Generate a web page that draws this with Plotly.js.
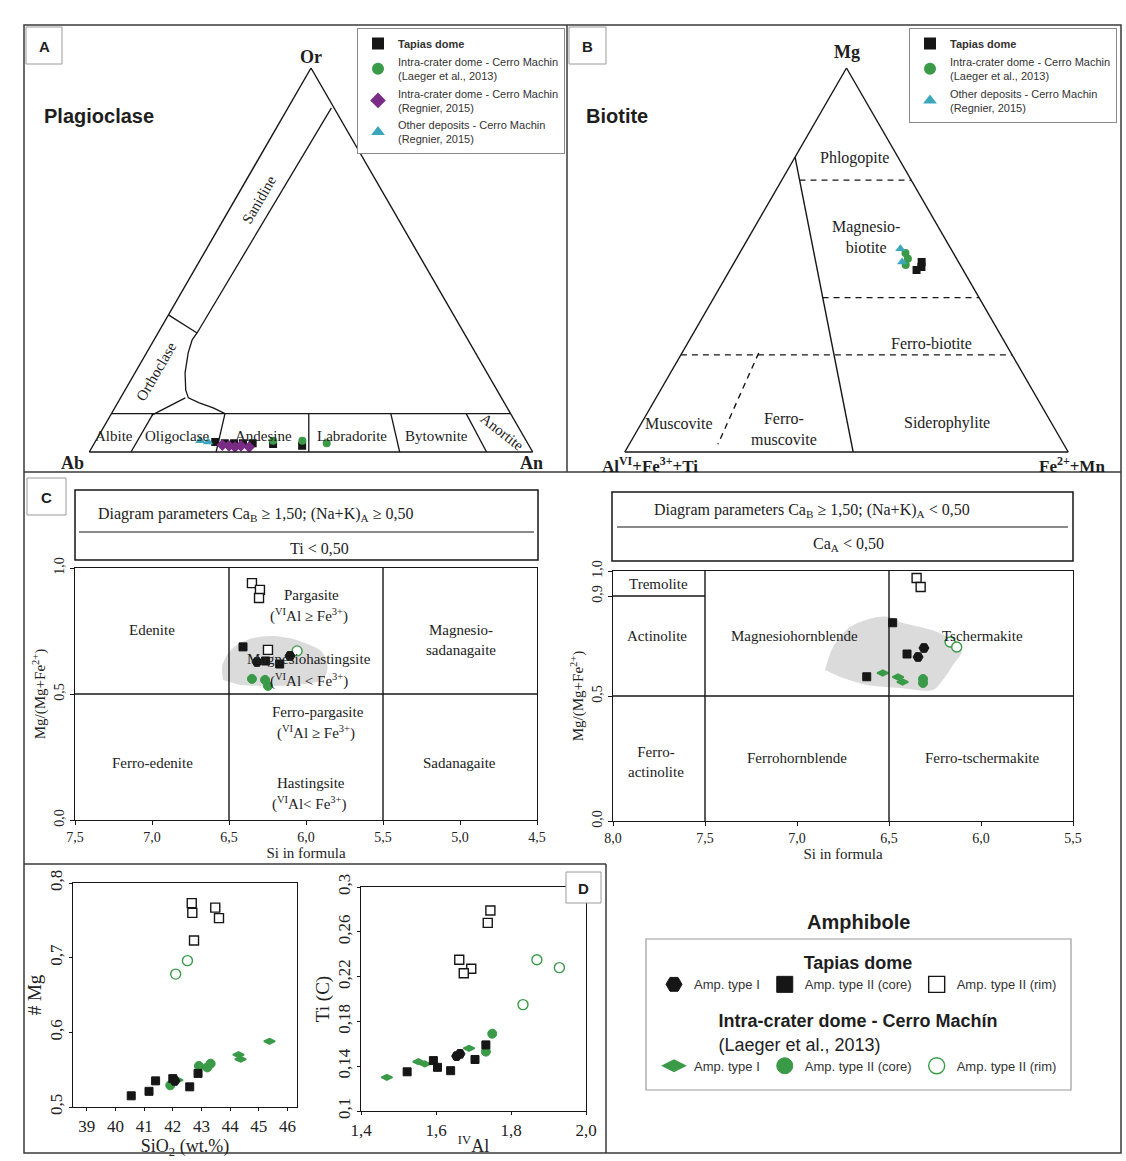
<!DOCTYPE html>
<html>
<head>
<meta charset="utf-8">
<script src="https://cdn.plot.ly/plotly-3.0.1.min.js"></script>
<style>
  html, body { margin: 0; padding: 0; background: #fff; }
  #chart { width: 1126px; height: 1161px; }
</style>
</head>
<body>
<div id="chart"></div>
<script>
// ---------- fonts & colours ----------
const SANS = '"Liberation Sans", Arial, sans-serif';
const SERIF = '"Liberation Serif", "Times New Roman", serif';
const INK = '#161616';
const GREEN = '#3a9a48';
const PURPLE = '#7a2b86';
const CYAN = '#3ba7bd';
const BLOB = 'rgba(175,175,175,0.45)';

// ---------- A: plagioclase compositions (Or, Ab, An fractions) ----------
const plagTapiasOr = [0.026, 0.023, 0.023, 0.023, 0.023, 0.021, 0.016];
const plagTapiasAb = [0.703, 0.683, 0.662, 0.642, 0.620, 0.575, 0.512];
const plagTapiasAn = [0.271, 0.294, 0.315, 0.335, 0.357, 0.404, 0.472];
const plagLaegerOr = [0.029, 0.029, 0.023];
const plagLaegerAb = [0.571, 0.505, 0.453];
const plagLaegerAn = [0.400, 0.466, 0.524];
const plagRegnierOr = [0.018, 0.016, 0.013, 0.016, 0.013];
const plagRegnierAb = [0.691, 0.677, 0.665, 0.650, 0.633];
const plagRegnierAn = [0.291, 0.307, 0.322, 0.334, 0.354];
const plagOtherOr = [0.029, 0.026];
const plagOtherAb = [0.735, 0.719];
const plagOtherAn = [0.236, 0.255];

// feldspar field boundaries, vertices as [Or, Ab, An]
const plagFieldLines = [
  [[0.10, 0.90, 0.00], [0.10, 0.00, 0.90]],
  [[0.00, 0.906, 0.094], [0.10, 0.806, 0.094]],
  [[0.00, 0.714, 0.286], [0.10, 0.644, 0.256]],
  [[0.00, 0.505, 0.495], [0.10, 0.455, 0.445]],
  [[0.00, 0.300, 0.700], [0.10, 0.270, 0.630]],
  [[0.00, 0.104, 0.896], [0.10, 0.100, 0.800]],
  [[0.896, 0.006, 0.098], [0.31, 0.602, 0.088]],
  [[0.357, 0.643, 0.000], [0.31, 0.602, 0.088]],
  [[0.31, 0.602, 0.088], [0.292, 0.622, 0.086], [0.258, 0.648, 0.094], [0.206, 0.681, 0.113],
   [0.161, 0.702, 0.137], [0.141, 0.706, 0.153], [0.128, 0.688, 0.184], [0.115, 0.663, 0.222],
   [0.10, 0.644, 0.256]],
  [[0.141, 0.713, 0.146], [0.096, 0.811, 0.093]]
];

// ---------- B: biotite compositions (Mg, AlVI+Fe3+ +Ti, Fe2+ +Mn) ----------
const bioTapiasMg = [0.495, 0.474, 0.482];
const bioTapiasAl = [0.083, 0.105, 0.090];
const bioTapiasFe = [0.422, 0.421, 0.428];
const bioLaegerMg = [0.518, 0.503, 0.487];
const bioLaegerAl = [0.108, 0.110, 0.123];
const bioLaegerFe = [0.374, 0.387, 0.390];
const bioOtherMg = [0.529, 0.495];
const bioOtherAl = [0.114, 0.127];
const bioOtherFe = [0.357, 0.378];

// biotite field boundaries, vertices as [Mg, Al, Fe]
const bioSolidLine = [[0.0, 0.485, 0.515], [0.768, 0.232, 0.0]];
const bioDashedLines = [
  [[0.708, 0.252, 0.040], [0.708, 0.0, 0.292]],
  [[0.402, 0.353, 0.245], [0.402, 0.0, 0.598]],
  [[0.253, 0.747, 0.0], [0.253, 0.0, 0.747]],
  [[0.258, 0.569, 0.173], [0.02, 0.78, 0.20]]
];

// ---------- C (left): CaB >= 1.50, (Na+K)A >= 0.50 — Si vs Mg/(Mg+Fe2+) ----------
const cLTapiasISi = [6.318, 6.104];
const cLTapiasIMg = [0.627, 0.651];
const cLTapiasCoreSi = [6.409, 6.262, 6.171];
const cLTapiasCoreMg = [0.687, 0.631, 0.619];
const cLTapiasRimSi = [6.351, 6.299, 6.305, 6.247];
const cLTapiasRimMg = [0.940, 0.913, 0.881, 0.675];
const cLLaegerCoreSi = [6.351, 6.266, 6.247];
const cLLaegerCoreMg = [0.560, 0.556, 0.532];
const cLLaegerRimSi = [6.058];
const cLLaegerRimMg = [0.671];
const cLFieldSi = [6.539, 6.545, 6.513, 6.448, 6.344, 6.214, 6.084, 5.974, 5.896, 5.864, 5.864, 5.896, 6.006, 6.234, 6.429];
const cLFieldMg = [0.556, 0.607, 0.655, 0.694, 0.722, 0.730, 0.718, 0.694, 0.667, 0.627, 0.587, 0.556, 0.540, 0.532, 0.536];

// ---------- C (right): CaB >= 1.50, (Na+K)A < 0.50 ----------
const cRTapiasISi = [6.310, 6.342];
const cRTapiasIMg = [0.692, 0.656];
const cRTapiasCoreSi = [6.480, 6.402, 6.621];
const cRTapiasCoreMg = [0.793, 0.668, 0.577];
const cRTapiasRimSi = [6.350, 6.328];
const cRTapiasRimMg = [0.972, 0.936];
const cRLaegerISi = [6.534, 6.451, 6.426];
const cRLaegerIMg = [0.592, 0.576, 0.556];
const cRLaegerCoreSi = [6.315, 6.315];
const cRLaegerCoreMg = [0.568, 0.552];
const cRLaegerRimSi = [6.168, 6.132];
const cRLaegerRimMg = [0.716, 0.696];
const cRFieldSi = [6.848, 6.804, 6.712, 6.565, 6.495, 6.440, 6.223, 6.103, 6.152, 6.207, 6.261, 6.440, 6.620, 6.766];
const cRFieldMg = [0.604, 0.696, 0.776, 0.816, 0.816, 0.796, 0.752, 0.684, 0.624, 0.564, 0.524, 0.532, 0.544, 0.576];

// ---------- D (left): SiO2 wt.% vs #Mg ----------
const dLTapiasISiO2 = [42.07];
const dLTapiasIMg = [0.535];
const dLTapiasCoreSiO2 = [40.55, 41.17, 41.40, 42.00, 42.59, 42.88];
const dLTapiasCoreMg = [0.515, 0.521, 0.535, 0.538, 0.527, 0.545];
const dLTapiasRimSiO2 = [42.66, 42.68, 42.74, 43.48, 43.61];
const dLTapiasRimMg = [0.773, 0.760, 0.723, 0.767, 0.753];
const dLLaegerISiO2 = [42.16, 44.29, 44.36, 45.37];
const dLLaegerIMg = [0.536, 0.570, 0.564, 0.588];
const dLLaegerCoreSiO2 = [41.91, 42.91, 43.20, 43.32];
const dLLaegerCoreMg = [0.529, 0.555, 0.553, 0.558];
const dLLaegerRimSiO2 = [42.10, 42.51];
const dLLaegerRimMg = [0.678, 0.696];

// ---------- D (right): IVAl vs Ti (C) ----------
const dRTapiasIAl = [1.655, 1.664];
const dRTapiasITi = [0.149, 0.151];
const dRTapiasCoreAl = [1.523, 1.593, 1.604, 1.639, 1.704, 1.733];
const dRTapiasCoreTi = [0.135, 0.145, 0.139, 0.136, 0.146, 0.159];
const dRTapiasRimAl = [1.745, 1.738, 1.662, 1.694, 1.674];
const dRTapiasRimTi = [0.279, 0.268, 0.235, 0.227, 0.223];
const dRLaegerIAl = [1.469, 1.553, 1.570, 1.688];
const dRLaegerITi = [0.130, 0.144, 0.142, 0.156];
const dRLaegerCoreAl = [1.750, 1.733];
const dRLaegerCoreTi = [0.169, 0.153];
const dRLaegerRimAl = [1.869, 1.929, 1.832];
const dRLaegerRimTi = [0.235, 0.228, 0.195];

// ---------- tick values / labels ----------
const cLeftSiTicks = [7.5, 7.0, 6.5, 6.0, 5.5, 5.0, 4.5];
const cLeftMgTicks = [0.0, 0.5, 1.0];
const cRightSiTicks = [8.0, 7.5, 7.0, 6.5, 6.0, 5.5];
const cRightMgTicks = [0.0, 0.5, 0.9, 1.0];
const dLeftSiO2Ticks = [39, 40, 41, 42, 43, 44, 45, 46];
const dLeftMgTicks = [0.5, 0.6, 0.7, 0.8];
const dRightAlTicks = [1.4, 1.6, 1.8, 2.0];
const dRightTiTicks = [0.1, 0.14, 0.18, 0.22, 0.26, 0.3];
const dRightTiLabels = ['0,1', '0,14', '0,18', '0,22', '0,26', '0,3'];

// ---------- page geometry helpers (pixel -> paper) ----------
const W = 1126, H = 1161;
const px = x => x / W;
const py = y => 1 - y / H;

// ---------- marker styles ----------
const ST = {
  tapiasI:   {symbol: 'hexagon2', size: 10, color: INK, line: {color: INK, width: 1}},
  tapiasCore:{symbol: 'square', size: 8, color: INK, line: {color: INK, width: 1}},
  tapiasRim: {symbol: 'square', size: 9, color: '#fff', line: {color: INK, width: 1.4}},
  laegerI:   {symbol: 'diamond-wide', size: 8, color: GREEN, line: {color: GREEN, width: 1.5}},
  laegerCore:{symbol: 'circle', size: 9, color: GREEN, line: {color: GREEN, width: 1}},
  laegerRim: {symbol: 'circle', size: 10, color: '#fff', line: {color: GREEN, width: 1.4}}
};

const traces = [];

// ---------- ternary field lines ----------
plagFieldLines.forEach(seg => traces.push({
  type: 'scatterternary', subplot: 'ternary', mode: 'lines',
  a: seg.map(p => p[0]), b: seg.map(p => p[1]), c: seg.map(p => p[2]),
  line: {color: INK, width: 1.3}, hoverinfo: 'skip', showlegend: false
}));
traces.push({
  type: 'scatterternary', subplot: 'ternary2', mode: 'lines',
  a: bioSolidLine.map(p => p[0]), b: bioSolidLine.map(p => p[1]), c: bioSolidLine.map(p => p[2]),
  line: {color: INK, width: 1.4}, hoverinfo: 'skip', showlegend: false
});
bioDashedLines.forEach(seg => traces.push({
  type: 'scatterternary', subplot: 'ternary2', mode: 'lines',
  a: seg.map(p => p[0]), b: seg.map(p => p[1]), c: seg.map(p => p[2]),
  line: {color: INK, width: 1.4, dash: '6px,5px'}, hoverinfo: 'skip', showlegend: false
}));

// ---------- plagioclase points ----------
function tern(sub, leg, name, a, b, c, marker) {
  traces.push({type: 'scatterternary', subplot: sub, mode: 'markers', name: name,
    a: a, b: b, c: c, marker: marker, legend: leg, showlegend: true});
}
tern('ternary', 'legend', '<b>Tapias dome</b>', plagTapiasOr, plagTapiasAb, plagTapiasAn,
  {symbol: 'square', size: 8, color: INK});
tern('ternary', 'legend', 'Intra-crater dome - Cerro Machin<br>(Laeger et al., 2013)',
  plagLaegerOr, plagLaegerAb, plagLaegerAn, {symbol: 'circle', size: 8, color: GREEN});
tern('ternary', 'legend', 'Intra-crater dome - Cerro Machin<br>(Regnier, 2015)',
  plagRegnierOr, plagRegnierAb, plagRegnierAn, {symbol: 'diamond', size: 9, color: PURPLE});
tern('ternary', 'legend', 'Other deposits - Cerro Machin<br>(Regnier, 2015)',
  plagOtherOr, plagOtherAb, plagOtherAn, {symbol: 'triangle-up', size: 9, color: CYAN});

// ---------- biotite points ----------
tern('ternary2', 'legend2', '<b>Tapias dome</b>', bioTapiasMg, bioTapiasAl, bioTapiasFe,
  {symbol: 'square', size: 8, color: INK});
tern('ternary2', 'legend2', 'Intra-crater dome - Cerro Machin<br>(Laeger et al., 2013)',
  bioLaegerMg, bioLaegerAl, bioLaegerFe, {symbol: 'circle', size: 8, color: GREEN});
tern('ternary2', 'legend2', 'Other deposits - Cerro Machin<br>(Regnier, 2015)',
  bioOtherMg, bioOtherAl, bioOtherFe, {symbol: 'triangle-up', size: 9, color: CYAN});

// ---------- amphibole panels ----------
function pts(xa, ya, x, y, style) {
  traces.push({type: 'scatter', mode: 'markers', xaxis: xa, yaxis: ya, x: x, y: y,
    marker: style, showlegend: false, cliponaxis: false});
}
function field(xa, ya, x, y) {
  traces.push({type: 'scatter', mode: 'lines', xaxis: xa, yaxis: ya, x: x, y: y,
    fill: 'toself', fillcolor: BLOB, line: {width: 0, color: BLOB, shape: 'spline', smoothing: 0.8},
    hoverinfo: 'skip', showlegend: false});
}

field('x', 'y', cLFieldSi, cLFieldMg);
pts('x', 'y', cLLaegerCoreSi, cLLaegerCoreMg, ST.laegerCore);
pts('x', 'y', cLLaegerRimSi, cLLaegerRimMg, ST.laegerRim);
pts('x', 'y', cLTapiasCoreSi, cLTapiasCoreMg, ST.tapiasCore);
pts('x', 'y', cLTapiasISi, cLTapiasIMg, ST.tapiasI);
pts('x', 'y', cLTapiasRimSi, cLTapiasRimMg, ST.tapiasRim);

field('x2', 'y2', cRFieldSi, cRFieldMg);
pts('x2', 'y2', cRLaegerISi, cRLaegerIMg, ST.laegerI);
pts('x2', 'y2', cRLaegerCoreSi, cRLaegerCoreMg, ST.laegerCore);
pts('x2', 'y2', cRLaegerRimSi, cRLaegerRimMg, ST.laegerRim);
pts('x2', 'y2', cRTapiasCoreSi, cRTapiasCoreMg, ST.tapiasCore);
pts('x2', 'y2', cRTapiasISi, cRTapiasIMg, ST.tapiasI);
pts('x2', 'y2', cRTapiasRimSi, cRTapiasRimMg, ST.tapiasRim);

pts('x3', 'y3', dLLaegerISiO2, dLLaegerIMg, ST.laegerI);
pts('x3', 'y3', dLLaegerCoreSiO2, dLLaegerCoreMg, ST.laegerCore);
pts('x3', 'y3', dLLaegerRimSiO2, dLLaegerRimMg, ST.laegerRim);
pts('x3', 'y3', dLTapiasCoreSiO2, dLTapiasCoreMg, ST.tapiasCore);
pts('x3', 'y3', dLTapiasISiO2, dLTapiasIMg, ST.tapiasI);
pts('x3', 'y3', dLTapiasRimSiO2, dLTapiasRimMg, ST.tapiasRim);

pts('x4', 'y4', dRLaegerIAl, dRLaegerITi, ST.laegerI);
pts('x4', 'y4', dRLaegerCoreAl, dRLaegerCoreTi, ST.laegerCore);
pts('x4', 'y4', dRLaegerRimAl, dRLaegerRimTi, ST.laegerRim);
pts('x4', 'y4', dRTapiasCoreAl, dRTapiasCoreTi, ST.tapiasCore);
pts('x4', 'y4', dRTapiasIAl, dRTapiasITi, ST.tapiasI);
pts('x4', 'y4', dRTapiasRimAl, dRTapiasRimTi, ST.tapiasRim);

// legend keys for the amphibole symbol set
function key(leg, name, style) {
  traces.push({type: 'scatter', mode: 'markers', xaxis: 'x4', yaxis: 'y4', x: [null], y: [null],
    name: name, legend: leg, showlegend: true, hoverinfo: 'skip',
    marker: Object.assign({}, style, {size: 16})});
}
key('legend3', 'Amp. type I', ST.tapiasI);
key('legend3', 'Amp. type II (core)', ST.tapiasCore);
key('legend3', 'Amp. type II (rim)', ST.tapiasRim);
key('legend4', 'Amp. type I', ST.laegerI);
key('legend4', 'Amp. type II (core)', ST.laegerCore);
key('legend4', 'Amp. type II (rim)', ST.laegerRim);

// ---------- shapes ----------
const shapes = [];
const FRAME = {color: '#3a3a3a', width: 1.5};
function rectPx(x0, y0, x1, y1, line, fill) {
  shapes.push({type: 'rect', xref: 'paper', yref: 'paper', x0: px(x0), x1: px(x1), y0: py(y0), y1: py(y1),
    line: line, fillcolor: fill || 'rgba(0,0,0,0)', layer: 'above'});
}
function linePx(x0, y0, x1, y1, line) {
  shapes.push({type: 'line', xref: 'paper', yref: 'paper', x0: px(x0), x1: px(x1), y0: py(y0), y1: py(y1),
    line: line, layer: 'above'});
}
function lineData(xr, yr, x0, y0, x1, y1) {
  shapes.push({type: 'line', xref: xr, yref: yr, x0: x0, x1: x1, y0: y0, y1: y1,
    line: {color: INK, width: 1.4}, layer: 'above'});
}

// panel frames
rectPx(24, 25, 1121, 1153, FRAME);
linePx(567, 25, 567, 472, FRAME);
linePx(24, 472, 1121, 472, FRAME);
linePx(24, 864, 606, 864, FRAME);
linePx(606, 864, 606, 1153, FRAME);

// panel letter boxes
const BOXLINE = {color: '#9a9a9a', width: 1};
rectPx(26, 27, 62, 64, BOXLINE, '#fff');
rectPx(569, 27, 606, 64, BOXLINE, '#fff');
rectPx(27, 478, 66, 515, BOXLINE, '#fff');
rectPx(566, 872, 601, 903, BOXLINE, '#fff');

// amphibole header boxes
rectPx(75, 490, 538, 560, {color: INK, width: 1.5});
linePx(79, 532, 534, 532, {color: INK, width: 1.2});
rectPx(612, 492, 1073, 561, {color: INK, width: 1.5});
linePx(617, 527, 1068, 527, {color: INK, width: 1.2});

// amphibole legend frame
rectPx(646, 939, 1071, 1090, {color: '#9a9a9a', width: 1.2});

// classification boundaries in data units
lineData('x', 'y', 6.5, 0, 6.5, 1);
lineData('x', 'y', 5.5, 0, 5.5, 1);
lineData('x', 'y', 7.5, 0.5, 4.5, 0.5);
lineData('x2', 'y2', 7.5, 0, 7.5, 1);
lineData('x2', 'y2', 6.5, 0, 6.5, 1);
lineData('x2', 'y2', 8.0, 0.5, 5.5, 0.5);
lineData('x2', 'y2', 8.0, 0.9, 7.5, 0.9);

// ---------- annotations ----------
const annotations = [];
function label(text, x, y, font, extra) {
  annotations.push(Object.assign({text: text, x: px(x), y: py(y), xref: 'paper', yref: 'paper',
    showarrow: false, xanchor: 'center', yanchor: 'middle',
    font: Object.assign({family: SERIF, size: 15, color: '#222'}, font || {})}, extra || {}));
}
const BOLDSANS = {family: SANS, size: 20, color: '#1e1e1e'};
const LETTER = {family: SANS, size: 15, color: '#1e1e1e'};
const VERTEX = {family: SERIF, size: 18, color: '#1e1e1e'};

label('<b>A</b>', 44, 46, LETTER);
label('<b>B</b>', 587, 46, LETTER);
label('<b>C</b>', 46, 497, LETTER);
label('<b>D</b>', 583, 888, LETTER);

// A
label('<b>Plagioclase</b>', 99, 116, BOLDSANS);
label('<b>Or</b>', 311, 57, VERTEX);
label('<b>Ab</b>', 72, 463, VERTEX);
label('<b>An</b>', 531, 463, VERTEX);
label('Sanidine', 259, 200, {size: 15}, {textangle: -60});
label('Orthoclase', 156, 372, {size: 15}, {textangle: -60});
label('Albite', 114, 436);
label('Oligoclase', 177, 436);
label('Andesine', 263, 436);
label('Labradorite', 352, 436);
label('Bytownite', 436, 436);
label('Anortite', 502, 432, {size: 15}, {textangle: 38});

// B
label('<b>Biotite</b>', 617, 116, BOLDSANS);
label('<b>Mg</b>', 847, 52, VERTEX);
label('<b>Al<sup>VI</sup>+Fe<sup>3+</sup>+Ti</b>', 650, 465, {family: SERIF, size: 17, color: '#1e1e1e'});
label('<b>Fe<sup>2+</sup>+Mn</b>', 1072, 465, {family: SERIF, size: 17, color: '#1e1e1e'});
label('Phlogopite', 854, 158, {size: 16});
label('Magnesio-<br>biotite', 866, 237, {size: 16});
label('Ferro-biotite', 931, 343, {size: 16});
label('Muscovite', 679, 423, {size: 16});
label('Ferro-<br>muscovite', 784, 429, {size: 16});
label('Siderophylite', 947, 423, {size: 16});

// C left
label('Diagram parameters Ca<sub>B</sub> ≥ 1,50; (Na+K)<sub>A</sub> ≥ 0,50', 255, 514, {size: 16});
label('Ti &lt; 0,50', 319, 548, {size: 16});
label('Edenite', 152, 630);
label('Pargasite', 311, 595);
label('(<sup>VI</sup>Al ≥ Fe<sup>3+</sup>)', 309, 615);
label('Magnesio-<br>sadanagaite', 461, 640);
label('Magnesiohastingsite', 309, 659);
label('(<sup>VI</sup>Al &lt; Fe<sup>3+</sup>)', 309, 680);
label('Ferro-pargasite', 318, 712);
label('(<sup>VI</sup>Al ≥ Fe<sup>3+</sup>)', 316, 732);
label('Ferro-edenite', 152, 763);
label('Sadanagaite', 459, 763);
label('Hastingsite', 311, 783);
label('(<sup>VI</sup>Al&lt; Fe<sup>3+</sup>)', 309, 803);

// C right
label('Diagram parameters Ca<sub>B</sub> ≥ 1,50; (Na+K)<sub>A</sub> &lt; 0,50', 812, 510, {size: 16});
label('Ca<sub>A</sub> &lt; 0,50', 848, 545, {size: 16});
label('Tremolite', 658, 584);
label('Actinolite', 657, 636);
label('Magnesiohornblende', 794, 636);
label('Tschermakite', 982, 636);
label('Ferro-<br>actinolite', 656, 762);
label('Ferrohornblende', 797, 758);
label('Ferro-tschermakite', 982, 758);

// amphibole legend heading
label('<b>Amphibole</b>', 858, 922, {family: SANS, size: 20, color: '#1e1e1e'});

// ---------- axes ----------
function axis(extra) {
  return Object.assign({
    showline: true, mirror: true, linecolor: INK, linewidth: 1.4,
    showgrid: false, zeroline: false, ticks: 'outside', ticklen: 4, tickcolor: INK,
    tickfont: {family: SERIF, size: 14, color: '#222'}, tickmode: 'array', fixedrange: true
  }, extra);
}
function ternAxis() {
  return {title: {text: ''}, showgrid: false, showticklabels: false, ticks: '',
    linecolor: INK, linewidth: 1.4, min: 0};
}
const T15 = {family: SERIF, size: 15, color: '#222'};
const T18 = {family: SERIF, size: 18, color: '#222'};
const TICK17 = {family: SERIF, size: 17, color: '#222'};

const layout = {
  width: W, height: H,
  margin: {l: 0, r: 0, t: 0, b: 0},
  paper_bgcolor: '#fff', plot_bgcolor: '#fff',
  separators: ',.',
  showlegend: true,
  font: {family: SANS, color: '#222'},
  ternary: {
    domain: {x: [px(89), px(533)], y: [py(452), py(68)]},
    sum: 1, bgcolor: 'rgba(0,0,0,0)',
    aaxis: ternAxis(), baxis: ternAxis(), caxis: ternAxis()
  },
  ternary2: {
    domain: {x: [px(623), px(1070)], y: [py(452), py(68)]},
    sum: 1, bgcolor: 'rgba(0,0,0,0)',
    aaxis: ternAxis(), baxis: ternAxis(), caxis: ternAxis()
  },
  xaxis: axis({domain: [px(75), px(537)], anchor: 'y', range: [7.5, 4.5],
    tickvals: cLeftSiTicks, tickformat: '.1f',
    title: {text: 'Si in formula', font: T15, standoff: 2}}),
  yaxis: axis({domain: [py(820), py(568)], anchor: 'x', range: [0, 1],
    tickvals: cLeftMgTicks, tickformat: '.1f', tickangle: -90,
    title: {text: 'Mg/(Mg+Fe<sup>2+</sup>)', font: T15, standoff: 2}}),
  xaxis2: axis({domain: [px(613), px(1073)], anchor: 'y2', range: [8.0, 5.5],
    tickvals: cRightSiTicks, tickformat: '.1f',
    title: {text: 'Si in formula', font: T15, standoff: 2}}),
  yaxis2: axis({domain: [py(821), py(571)], anchor: 'x2', range: [0, 1],
    tickvals: cRightMgTicks, tickformat: '.1f', tickangle: -90,
    title: {text: 'Mg/(Mg+Fe<sup>2+</sup>)', font: T15, standoff: 2}}),
  xaxis3: axis({domain: [px(73), px(297)], anchor: 'y3', range: [38.52, 46.33],
    tickvals: dLeftSiO2Ticks, tickformat: 'd', tickfont: TICK17, ticklen: 3,
    title: {text: 'SiO<sub>2</sub> (wt.%)', font: T18, standoff: 0}}),
  yaxis3: axis({domain: [py(1107), py(883)], anchor: 'x3', range: [0.5, 0.8],
    tickvals: dLeftMgTicks, tickformat: '.1f', tickangle: -90, tickfont: TICK17, ticklen: 3,
    title: {text: '# Mg', font: {family: SERIF, size: 19, color: '#222'}, standoff: 0}}),
  xaxis4: axis({domain: [px(361), px(586)], anchor: 'y4', range: [1.4, 2.0],
    tickvals: dRightAlTicks, tickformat: '.1f', tickfont: TICK17, ticklen: 3,
    title: {text: '<sup>IV</sup>Al', font: T18, standoff: 0}}),
  yaxis4: axis({domain: [py(1111), py(887)], anchor: 'x4', range: [0.1, 0.3],
    tickvals: dRightTiTicks, ticktext: dRightTiLabels, tickangle: -90, tickfont: TICK17, ticklen: 3,
    title: {text: 'Ti (C)', font: {family: SERIF, size: 19, color: '#222'}, standoff: 0}}),
  legend: {
    x: px(357), y: py(28), xanchor: 'left', yanchor: 'top',
    bgcolor: '#fff', bordercolor: '#8a8a8a', borderwidth: 1,
    font: {family: SANS, size: 11, color: '#333'}, itemsizing: 'constant', tracegroupgap: 0
  },
  legend2: {
    x: px(909), y: py(28), xanchor: 'left', yanchor: 'top',
    bgcolor: '#fff', bordercolor: '#8a8a8a', borderwidth: 1,
    font: {family: SANS, size: 11, color: '#333'}, itemsizing: 'constant', tracegroupgap: 0
  },
  legend3: {
    x: px(858), y: py(946), xanchor: 'center', yanchor: 'top', orientation: 'h',
    bgcolor: 'rgba(0,0,0,0)', borderwidth: 0, itemsizing: 'trace',
    font: {family: SANS, size: 13, color: '#333'},
    title: {text: '<b>Tapias dome</b>', side: 'top center', font: {family: SANS, size: 18, color: '#1e1e1e'}}
  },
  legend4: {
    x: px(858), y: py(1004), xanchor: 'center', yanchor: 'top', orientation: 'h',
    bgcolor: 'rgba(0,0,0,0)', borderwidth: 0, itemsizing: 'trace',
    font: {family: SANS, size: 13, color: '#333'},
    title: {text: '<b>Intra-crater dome - Cerro Machín</b><br>(Laeger et al., 2013)', side: 'top center',
      font: {family: SANS, size: 18, color: '#1e1e1e'}}
  },
  shapes: shapes,
  annotations: annotations
};

Plotly.newPlot('chart', traces, layout, {displayModeBar: false, staticPlot: true});
</script>
</body>
</html>
